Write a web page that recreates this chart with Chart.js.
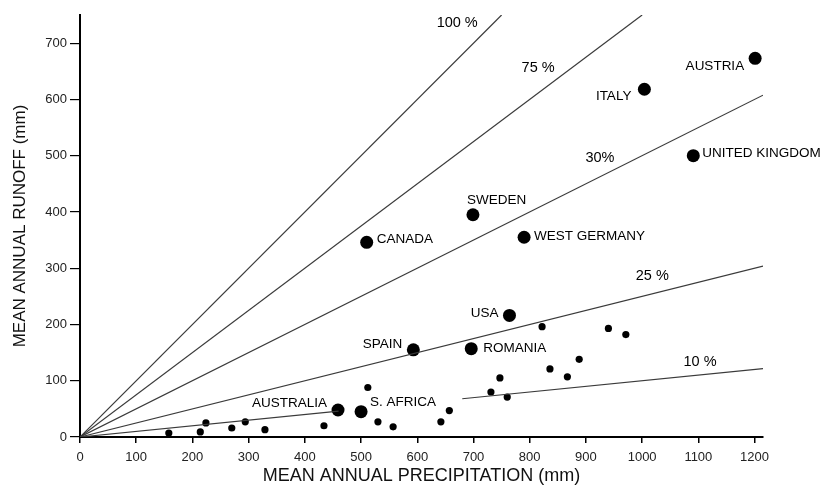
<!DOCTYPE html>
<html>
<head>
<meta charset="utf-8">
<script src="https://cdn.jsdelivr.net/npm/chart.js@4/dist/chart.umd.min.js"></script>
<style>
  html, body { margin: 0; padding: 0; background: #fff; }
  #wrap { width: 830px; height: 490px; }
</style>
</head>
<body>
<div id="wrap"><canvas id="myChart" width="830" height="490"></canvas></div>
<script>
// labelled countries
const countries = ['AUSTRIA', 'ITALY', 'UNITED KINGDOM', 'SWEDEN', 'WEST GERMANY', 'CANADA',
  'USA', 'SPAIN', 'ROMANIA', 'AUSTRALIA', 'S. AFRICA'];
const countryPrecip = [1201, 1004, 1091, 699, 790, 510, 764, 593, 696, 459, 500];
const countryRunoff = [673, 618, 500, 395, 355, 346, 216, 155, 157, 48, 45];

// small unlabelled points
const otherPrecip = [158, 214, 224, 270, 294, 329, 434, 512, 530, 557, 642, 657,
  731, 747, 760, 822, 836, 867, 888, 940, 971];
const otherRunoff = [7, 9, 25, 16, 27, 13, 20, 88, 27, 18, 27, 47,
  80, 105, 71, 196, 121, 107, 138, 193, 182];

// runoff ratio lines
const ratios = [1, 0.75, 0.5, 0.25, 0.1];
const ratioLabels = ['100 %', '75 %', '30%', '25 %', '10 %'];
const tenPctGap = [460, 680];

const xTicks = [0, 100, 200, 300, 400, 500, 600, 700, 800, 900, 1000, 1100, 1200];
const yTicks = [0, 100, 200, 300, 400, 500, 600, 700];

const X_MAX = 1215;
const Y_MAX = 750;
const FONT = '"Liberation Sans", Arial, sans-serif';

const lineSets = ratios.map((r, i) => {
  const xEnd = Math.min(X_MAX, Y_MAX / r);
  let pts = [{x: 0, y: 0}, {x: xEnd, y: r * xEnd}];
  if (r === 0.1) {
    pts = [{x: 0, y: 0}, {x: tenPctGap[0], y: r * tenPctGap[0]},
      {x: (tenPctGap[0] + tenPctGap[1]) / 2, y: null},
      {x: tenPctGap[1], y: r * tenPctGap[1]}, {x: xEnd, y: r * xEnd}];
  }
  return {
    label: ratioLabels[i],
    data: pts,
    showLine: true,
    spanGaps: false,
    borderColor: '#3a3a3a',
    borderWidth: 1.2,
    pointRadius: 0,
  };
});

const bigPoints = {
  label: 'countries',
  data: countryPrecip.map((p, i) => ({x: p, y: countryRunoff[i]})),
  backgroundColor: '#000',
  borderWidth: 0,
  pointRadius: 6.5,
};

const smallPoints = {
  label: 'others',
  data: otherPrecip.map((p, i) => ({x: p, y: otherRunoff[i]})),
  backgroundColor: '#000',
  borderWidth: 0,
  pointRadius: 3.6,
};

// text next to the dots and on the ratio lines
const labelPlugin = {
  id: 'labels',
  afterDatasetsDraw(chart, args, opts) {
    const ctx = chart.ctx;
    const xs = chart.scales.x, ys = chart.scales.y;
    ctx.save();
    ctx.fillStyle = '#000';
    ctx.textBaseline = 'middle';
    ctx.font = '13.5px ' + FONT;
    countries.forEach((name, i) => {
      const [dx, dy, align] = opts.countryOffsets[i];
      ctx.textAlign = align;
      ctx.fillText(name, xs.getPixelForValue(countryPrecip[i]) + dx, ys.getPixelForValue(countryRunoff[i]) + dy);
    });
    ctx.font = '14.5px ' + FONT;
    ctx.textAlign = 'center';
    ratioLabels.forEach((t, i) => {
      const [lx, ly] = opts.ratioLabelAt[i];
      ctx.fillText(t, xs.getPixelForValue(lx), ys.getPixelForValue(ly));
    });
    ctx.restore();
  }
};

const keepTicks = (list) => (scale) => {
  scale.ticks = list.map(v => ({value: v}));
};

const config = {
  type: 'scatter',
  data: {datasets: [...lineSets, bigPoints, smallPoints]},
  options: {
    responsive: false,
    animation: false,
    layout: {padding: {top: 15, right: 67, left: 0, bottom: 0}},
    plugins: {
      legend: {display: false},
      tooltip: {enabled: false},
      labels: {
        countryOffsets: [
          [-11, 8, 'right'], [-13, 7, 'right'], [9, -2, 'left'], [-6, -14, 'left'],
          [10, -1, 'left'], [10, -3, 'left'], [-11, -2, 'right'], [-11, -6, 'right'],
          [12, 0, 'left'], [-11, -7, 'right'], [9, -9, 'left']
        ],
        ratioLabelAt: [[671, 736], [815, 655], [925, 495], [1018, 286], [1103, 134]]
      }
    },
    scales: {
      x: {
        type: 'linear',
        min: 0,
        max: X_MAX,
        afterBuildTicks: keepTicks(xTicks),
        afterFit: (scale) => { scale.height = 53; },
        border: {color: '#000', width: 2},
        grid: {drawOnChartArea: false, drawTicks: true, tickLength: 6, color: '#000', lineWidth: 1.5},
        ticks: {color: '#222', font: {family: FONT, size: 13}, padding: 7, maxRotation: 0,
          callback: (v) => String(v)},
        title: {display: true, text: 'MEAN ANNUAL PRECIPITATION (mm)', color: '#111',
          font: {family: FONT, size: 18}, padding: {top: 0, bottom: 3}}
      },
      y: {
        type: 'linear',
        min: 0,
        max: Y_MAX,
        afterBuildTicks: keepTicks(yTicks),
        afterFit: (scale) => { scale.width = 80; },
        border: {color: '#000', width: 2},
        grid: {drawOnChartArea: false, drawTicks: true, tickLength: 10, color: '#000', lineWidth: 1.2},
        ticks: {color: '#222', font: {family: FONT, size: 13}, padding: 3,
          callback: (v) => String(v)},
        title: {display: true, text: 'MEAN ANNUAL RUNOFF (mm)', color: '#111',
          font: {family: FONT, size: 17}, padding: {top: 10, bottom: 0}}
      }
    }
  },
  plugins: [labelPlugin]
};

const myChart = new Chart(document.getElementById('myChart'), config);
</script>
</body>
</html>
